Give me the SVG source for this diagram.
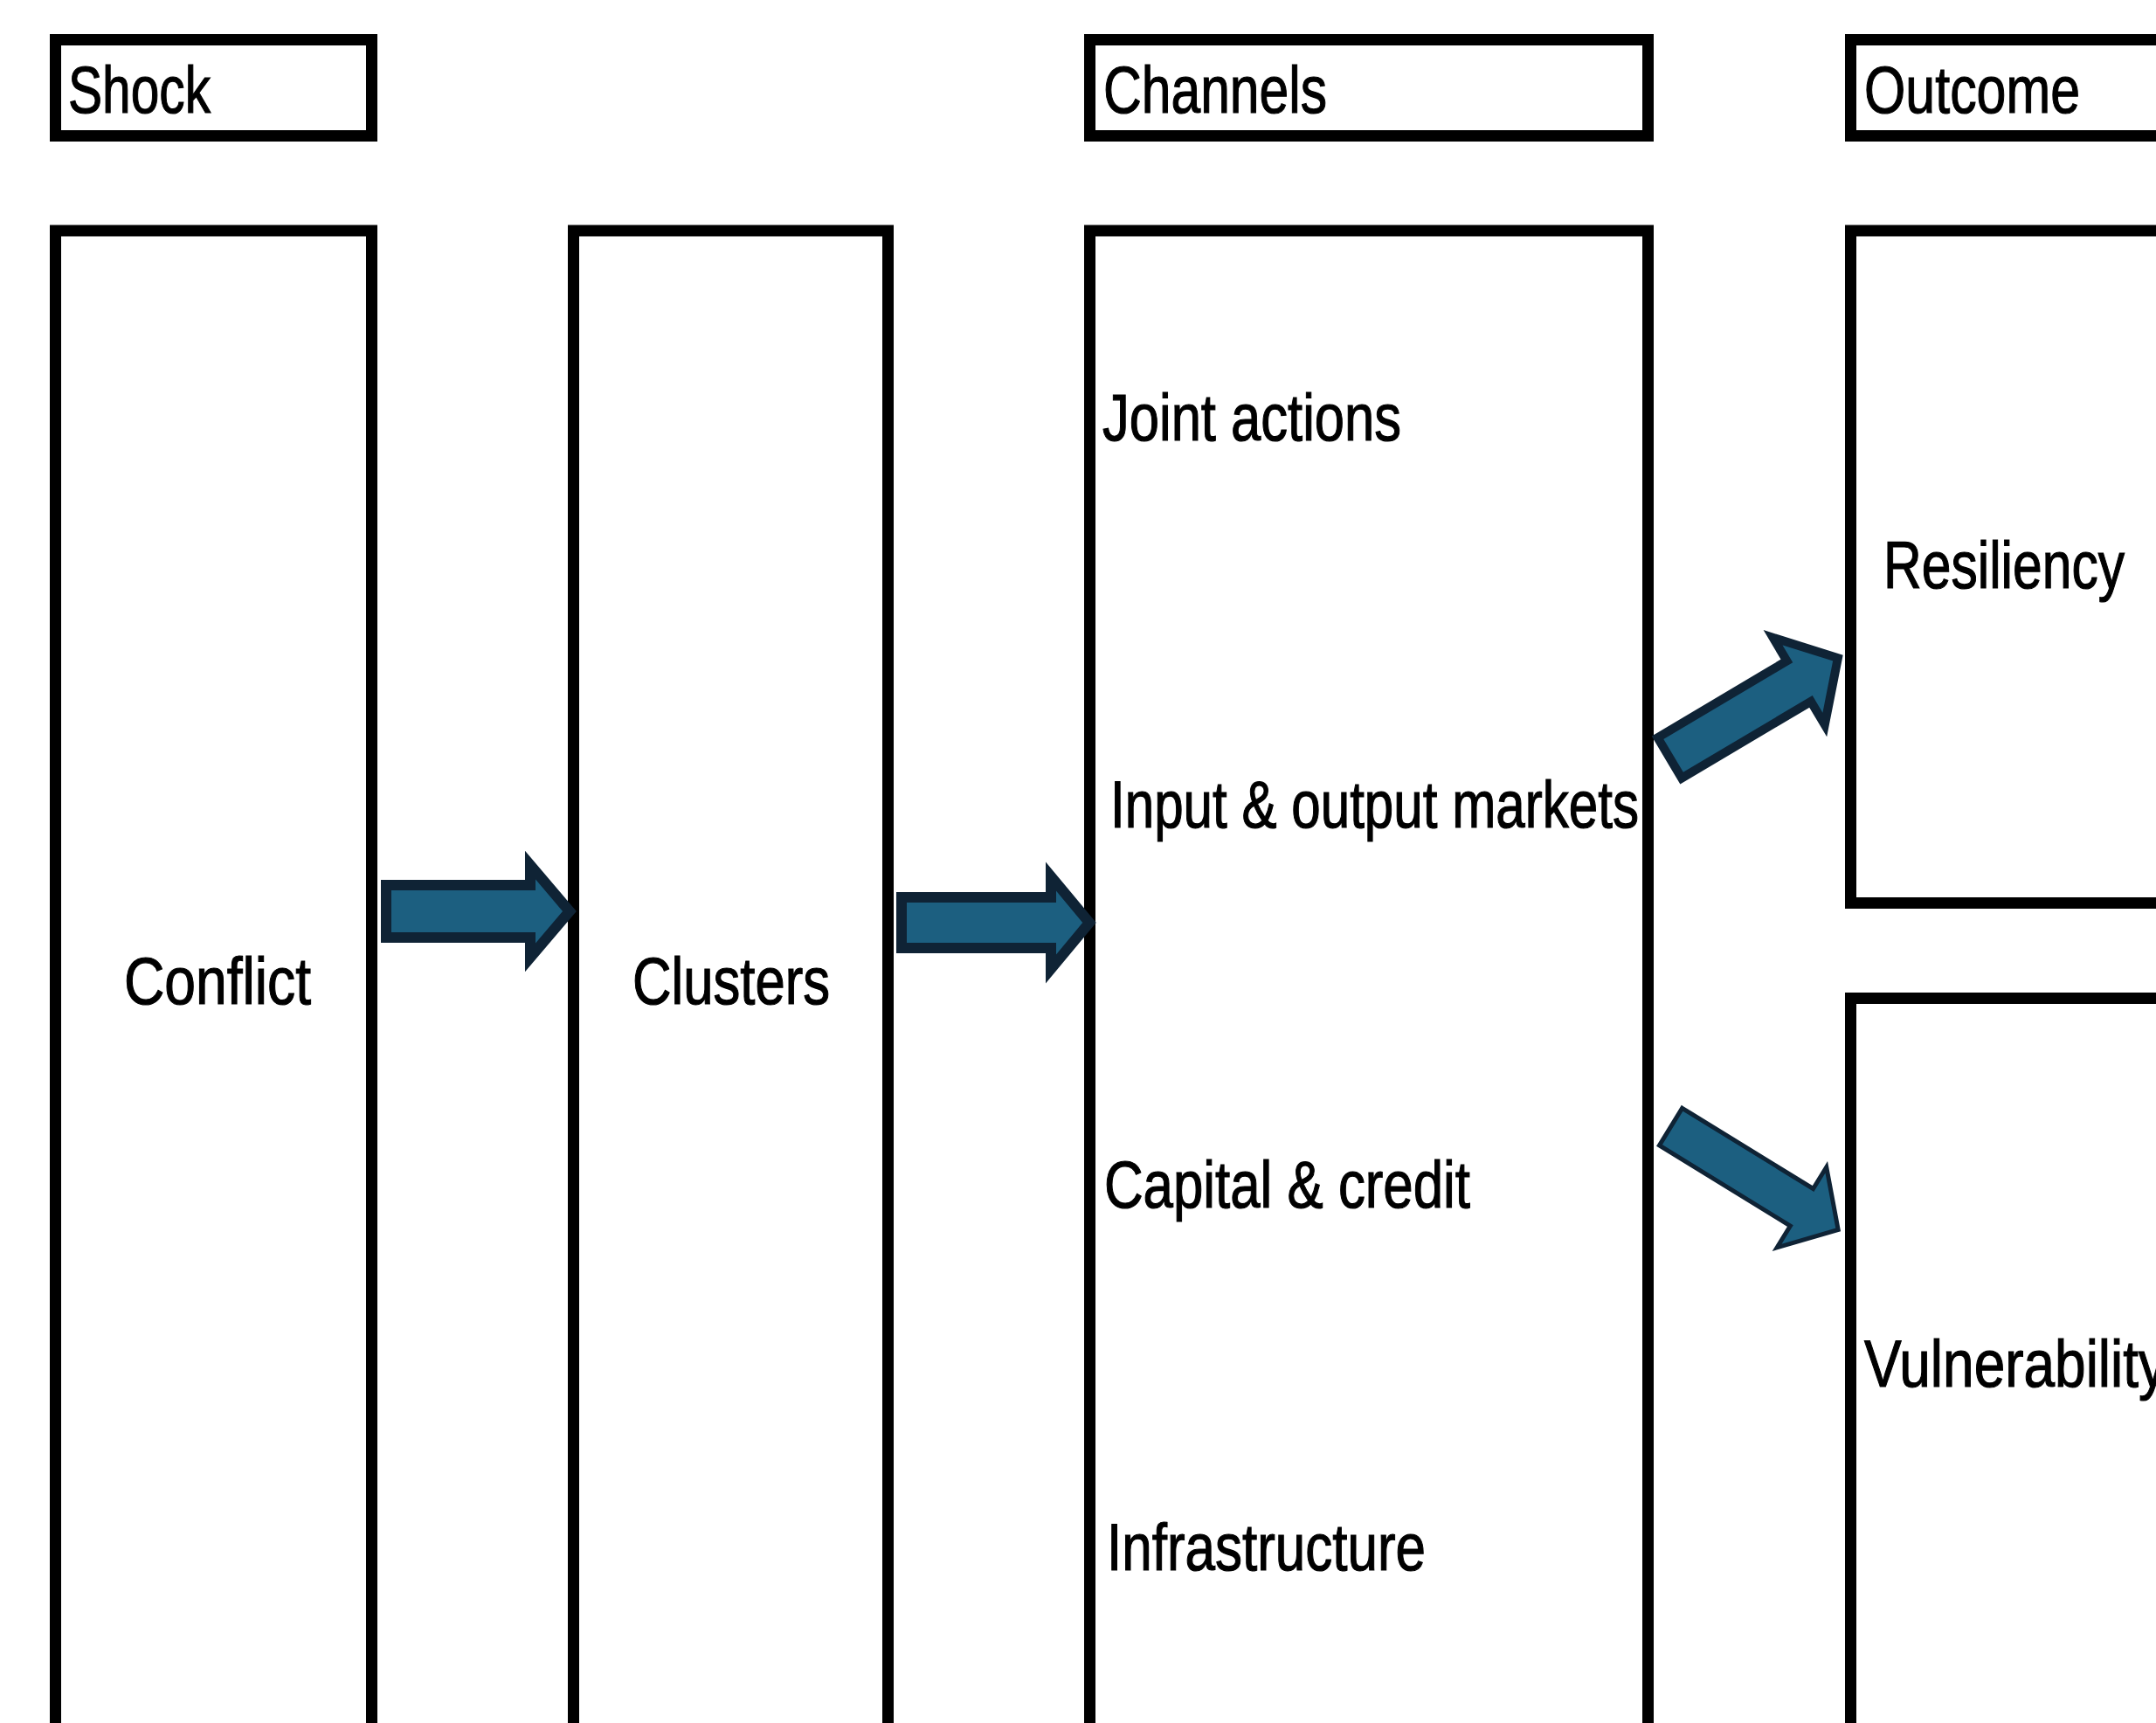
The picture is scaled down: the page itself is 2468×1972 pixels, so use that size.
<svg xmlns="http://www.w3.org/2000/svg" width="2468" height="1972" viewBox="0 0 2468 1972">
<style>
.box{fill:#ffffff;stroke:#000000;stroke-width:13}
.lbl{font-family:"Liberation Sans Narrow","Liberation Sans",Arial,sans-serif;font-size:76px;fill:#000000;stroke:#000000;stroke-width:1.2}
.arr{fill:#1c5f80;stroke:#0f2335;stroke-linejoin:miter;stroke-miterlimit:10}
</style>
<rect x="0" y="0" width="2468" height="1972" fill="#ffffff"/>
<g id="header-shock">
<rect class="box" x="63.5" y="45.5" width="362" height="110"/>
<text class="lbl" x="78" y="129" textLength="163" lengthAdjust="spacingAndGlyphs">Shock</text>
</g>
<g id="header-channels">
<rect class="box" x="1247.5" y="45.5" width="639" height="110"/>
<text class="lbl" x="1263" y="129" textLength="256" lengthAdjust="spacingAndGlyphs">Channels</text>
</g>
<g id="header-outcome">
<rect class="box" x="2118.5" y="45.5" width="400" height="110"/>
<text class="lbl" x="2134" y="129" textLength="247" lengthAdjust="spacingAndGlyphs">Outcome</text>
</g>
<g id="node-conflict">
<rect class="box" x="63.5" y="264" width="362" height="1800"/>
<text class="lbl" x="142" y="1149" textLength="214" lengthAdjust="spacingAndGlyphs">Conflict</text>
</g>
<g id="node-clusters">
<rect class="box" x="656.5" y="264" width="360" height="1800"/>
<text class="lbl" x="724" y="1149" textLength="226" lengthAdjust="spacingAndGlyphs">Clusters</text>
</g>
<g id="node-channels">
<rect class="box" x="1247.5" y="264" width="639" height="1800"/>
<text class="lbl" x="1262" y="504" textLength="342" lengthAdjust="spacingAndGlyphs">Joint actions</text>
<text class="lbl" x="1271" y="947" textLength="605" lengthAdjust="spacingAndGlyphs">Input &amp; output markets</text>
<text class="lbl" x="1264" y="1382" textLength="419" lengthAdjust="spacingAndGlyphs">Capital &amp; credit</text>
<text class="lbl" x="1267" y="1797" textLength="365" lengthAdjust="spacingAndGlyphs">Infrastructure</text>
</g>
<g id="node-resiliency">
<rect class="box" x="2118.5" y="264" width="400" height="769.5"/>
<text class="lbl" x="2156" y="673" textLength="276" lengthAdjust="spacingAndGlyphs">Resiliency</text>
</g>
<g id="node-vulnerability">
<rect class="box" x="2118.5" y="1142.5" width="400" height="1000"/>
<text class="lbl" x="2134" y="1587" textLength="346" lengthAdjust="spacingAndGlyphs">Vulnerability</text>
</g>
<g id="connectors">
<path class="arr" stroke-width="12" d="M442,1013 L607,1013 L607,990 L652,1043 L607,1096 L607,1073 L442,1073 Z"/>
<path class="arr" stroke-width="12" d="M1032,1027 L1203,1027 L1203,1003 L1247,1056 L1203,1109 L1203,1085 L1032,1085 Z"/>
<path class="arr" stroke-width="10" transform="translate(1907,870) rotate(-30.7)" d="M5,-27 L177,-27 L177,-58 L229,0 L177,58 L177,27 L5,27 Z"/>
<path class="arr" stroke-width="5" transform="translate(1910,1288) rotate(31.6)" d="M3,-25 L179,-25 L179,-54 L228,0 L179,54 L179,25 L3,25 Z"/>
</g>
</svg>
